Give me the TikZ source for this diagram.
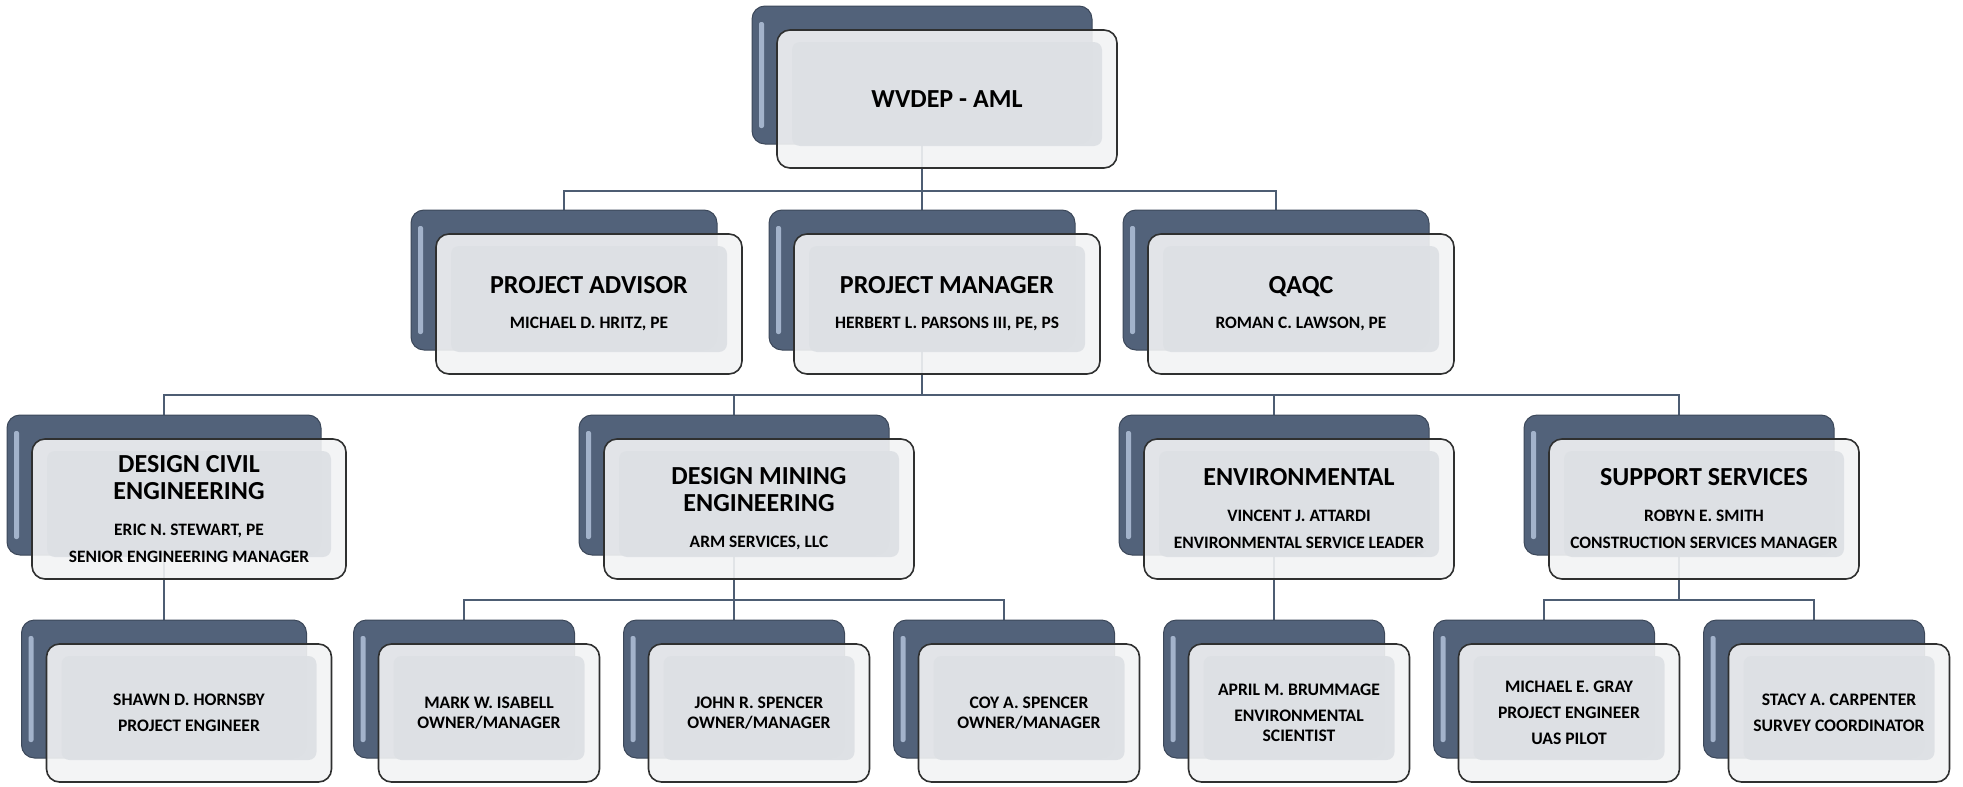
\documentclass[tikz,border=0pt]{standalone}
\usepackage{fontspec}
\setmainfont{Carlito}
\usetikzlibrary{backgrounds}
\definecolor{slate}{HTML}{52627A}
\definecolor{slateedge}{HTML}{3C485A}
\definecolor{slatelight}{HTML}{A3B3CB}
\definecolor{glass}{HTML}{F2F3F4}
\definecolor{glassface}{HTML}{DDE0E4}
\definecolor{glassedge}{HTML}{2F3030}
\definecolor{linkcol}{HTML}{4D5D73}
\newcommand{\boxhead}{\fontsize{26}{27}\selectfont}
\newcommand{\boxname}{\fontsize{17.4}{27}\selectfont}
\newcommand{\boxsmall}{\fontsize{17.6}{26}\selectfont}
\tikzstyle{backbox} = [rectangle, rounded corners=13pt, draw=slateedge, line width=1pt, fill=slate,
  path picture={\fill[slatelight, rounded corners=2pt] ([shift={(7pt,-16pt)}]path picture bounding box.north west) rectangle ([shift={(12pt,16pt)}]path picture bounding box.south west);}]
\tikzstyle{frontbox} = [rectangle, rounded corners=13pt, draw=glassedge, line width=1.6pt, fill=glass, fill opacity=0.9, text opacity=1, align=center, font=\bfseries\boxname, inner sep=2pt, xshift=25pt, yshift=-24pt,
  path picture={\fill[glassface, rounded corners=8pt] ([shift={(15pt,-12pt)}]path picture bounding box.north west) rectangle ([shift={(-15pt,22pt)}]path picture bounding box.south east);}]
\tikzstyle{toprow} = [minimum width=340pt, minimum height=138pt]
\tikzstyle{second} = [minimum width=306pt, minimum height=140pt]
\tikzstyle{third} = [minimum width=310pt, minimum height=140pt]
\tikzstyle{fourth} = [minimum width=221pt, minimum height=138pt, font=\bfseries\boxsmall]
\tikzstyle{link} = [draw=linkcol, line width=2.2pt]

\begin{document}
\begin{tikzpicture}[x=1pt, y=-1pt]
\useasboundingbox (0,0) rectangle (1963,787);

% top
\node(wvB) [backbox, toprow] at (922,75) {};
\node(wv) [frontbox, toprow] at (wvB) {\boxhead WVDEP - AML};

% second row
\node(paB) [backbox, second] at (564,280) {};
\node(pa) [frontbox, second] at (paB) {\boxhead PROJECT ADVISOR\\[8pt] MICHAEL D. HRITZ, PE};
\node(pmB) [backbox, second] at (922,280) {};
\node(pm) [frontbox, second] at (pmB) {\boxhead PROJECT MANAGER\\[8pt] HERBERT L. PARSONS III, PE, PS};
\node(qaB) [backbox, second] at (1276,280) {};
\node(qa) [frontbox, second] at (qaB) {\boxhead QAQC\\[8pt] ROMAN C. LAWSON, PE};

% third row
\node(civB) [backbox, third, minimum width=314pt] at (164,485) {};
\node(civ) [frontbox, third, minimum width=314pt] at (civB) {\boxhead DESIGN CIVIL\\\boxhead ENGINEERING\\[9pt] ERIC N. STEWART, PE\\SENIOR ENGINEERING MANAGER};
\node(minB) [backbox, third] at (734,485) {};
\node(min) [frontbox, third] at (minB) {\boxhead DESIGN MINING\\\boxhead ENGINEERING\\[9pt] ARM SERVICES, LLC};
\node(envB) [backbox, third] at (1274,485) {};
\node(env) [frontbox, third] at (envB) {\boxhead ENVIRONMENTAL\\[9pt] VINCENT J. ATTARDI\\ENVIRONMENTAL SERVICE LEADER};
\node(supB) [backbox, third] at (1679,485) {};
\node(sup) [frontbox, third] at (supB) {\boxhead SUPPORT SERVICES\\[9pt] ROBYN E. SMITH\\CONSTRUCTION SERVICES MANAGER};

% fourth row
\node(shB) [backbox, fourth, minimum width=285pt] at (164,689) {};
\node(sh) [frontbox, fourth, minimum width=285pt] at (shB) {SHAWN D. HORNSBY\\PROJECT ENGINEER};
\node(mwB) [backbox, fourth] at (464,689) {};
\node(mw) [frontbox, fourth] at (mwB) {MARK W. ISABELL\\[-6pt]OWNER/MANAGER};
\node(jrB) [backbox, fourth] at (734,689) {};
\node(jr) [frontbox, fourth] at (jrB) {JOHN R. SPENCER\\[-6pt]OWNER/MANAGER};
\node(caB) [backbox, fourth] at (1004,689) {};
\node(ca) [frontbox, fourth] at (caB) {COY A. SPENCER\\[-6pt]OWNER/MANAGER};
\node(amB) [backbox, fourth] at (1274,689) {};
\node(am) [frontbox, fourth] at (amB) {APRIL M. BRUMMAGE\\ENVIRONMENTAL\\[-6pt]SCIENTIST};
\node(meB) [backbox, fourth] at (1544,689) {};
\node(me) [frontbox, fourth] at (meB) {MICHAEL E. GRAY\\PROJECT ENGINEER\\UAS PILOT};
\node(stB) [backbox, fourth] at (1814,689) {};
\node(st) [frontbox, fourth] at (stB) {STACY A. CARPENTER\\SURVEY COORDINATOR};

\coordinate(busA) at (0,191);
\coordinate(busB) at (0,395);
\coordinate(busC) at (0,600);

\begin{pgfonlayer}{background}
\draw [link] (wvB.south) -- (pmB.north);
\draw [link] (paB.north) -- (paB.north |- busA) -- (qaB.north |- busA) -- (qaB.north);
\draw [link] (pmB.south) -- (pmB.south |- busB);
\draw [link] (civB.north) -- (civB.north |- busB) -- (supB.north |- busB) -- (supB.north);
\draw [link] (minB.north) -- (minB.north |- busB);
\draw [link] (envB.north) -- (envB.north |- busB);
\draw [link] (civB.south) -- (shB.north);
\draw [link] (minB.south) -- (jrB.north);
\draw [link] (mwB.north) -- (mwB.north |- busC) -- (caB.north |- busC) -- (caB.north);
\draw [link] (envB.south) -- (amB.north);
\draw [link] (supB.south) -- (supB.south |- busC);
\draw [link] (meB.north) -- (meB.north |- busC) -- (stB.north |- busC) -- (stB.north);
\end{pgfonlayer}

\end{tikzpicture}
\end{document}
